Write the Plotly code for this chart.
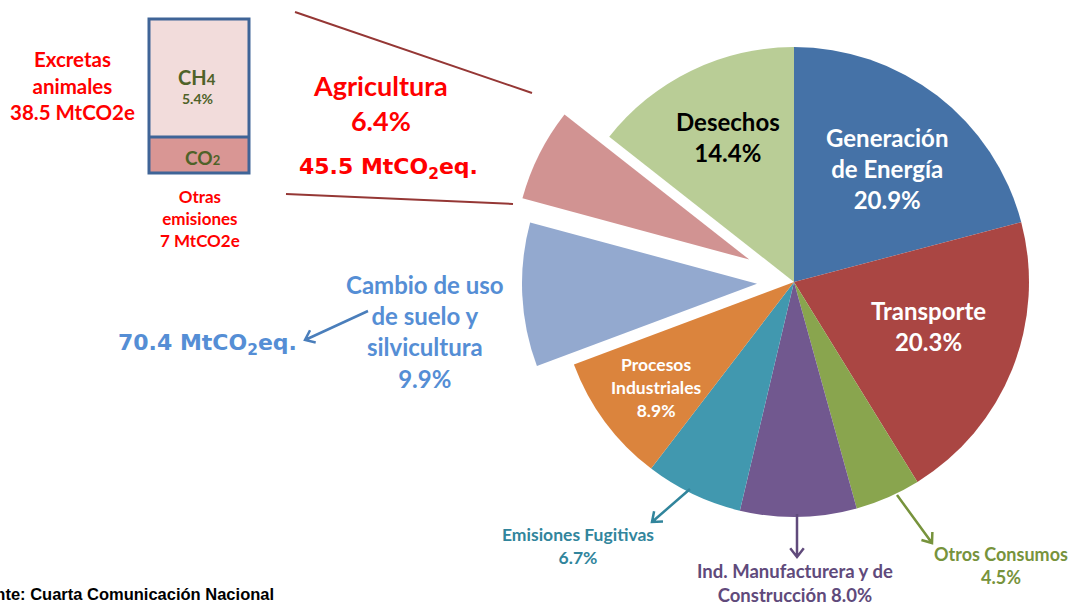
import math
import plotly.graph_objects as go

W, H = 1073, 603

# ---- data ----
sectors = ["Generación de Energía", "Transporte", "Otros Consumos",
           "Ind. Manufacturera y de Construcción", "Emisiones Fugitivas",
           "Procesos Industriales", "Cambio de uso de suelo y silvicultura",
           "Agricultura", "Desechos"]
shares = [20.9, 20.3, 4.5, 8.0, 6.7, 8.9, 9.9, 6.4, 14.4]
colors = ["#4572A7", "#AA4643", "#89A54E", "#71588F", "#4198AF",
          "#DB843D", "#93A9CF", "#D19392", "#B9CD96"]
pulled = {"Cambio de uso de suelo y silvicultura": (-37, 1.7),
          "Agricultura": (-44.7, -22.4)}
agri_mt = 45.5
lulucf_mt = 70.4
excretas_mt = 38.5
otras_mt = 7
ch4_share = 5.4

FONT = "Lato, 'Open Sans', sans-serif"


def px(x):
    return x / W


def py(y):
    return 1 - y / H


R = 235
CX, CY = 794, 282


def dom(cx, cy):
    return dict(x=[px(cx - R), px(cx + R)], y=[py(cy + R), py(cy - R)])


fig = go.Figure()

TRANSP = "rgba(0,0,0,0)"
# main pie (pulled slices hidden)
main_cols = [TRANSP if s in pulled else c for s, c in zip(sectors, colors)]
fig.add_trace(go.Pie(labels=sectors, values=shares, sort=False,
                     direction="clockwise", rotation=0,
                     marker=dict(colors=main_cols, line=dict(width=0)),
                     textinfo="none", hoverinfo="label+percent",
                     domain=dom(CX, CY), showlegend=False))
# exploded slices, each in its own shifted pie
for name, (dx, dy) in pulled.items():
    cols = [c if s == name else TRANSP for s, c in zip(sectors, colors)]
    fig.add_trace(go.Pie(labels=sectors, values=shares, sort=False,
                         direction="clockwise", rotation=0,
                         marker=dict(colors=cols, line=dict(width=0)),
                         textinfo="none", hoverinfo="label+percent",
                         domain=dom(CX + dx, CY + dy), showlegend=False))

ann = []
shapes = []


def text(x, y, t, size, color, family=FONT, xanchor="center"):
    ann.append(dict(x=px(x), y=py(y), xref="paper", yref="paper", text=t,
                    showarrow=False, xanchor=xanchor, yanchor="middle",
                    font=dict(size=size, color=color, family=family)))


def arrow(x0, y0, x1, y1, color, head=11, ang=38):
    # line with an open "V" arrow head at (x1, y1), in pixel coords
    dx, dy = x1 - x0, y1 - y0
    n = math.hypot(dx, dy)
    ux, uy = dx / n, dy / n
    pts = []
    for s in (1, -1):
        a = math.radians(ang) * s
        rx = ux * math.cos(a) - uy * math.sin(a)
        ry = ux * math.sin(a) + uy * math.cos(a)
        pts.append((x1 - head * rx, y1 - head * ry))
    path = (f"M {px(x0)} {py(y0)} L {px(x1)} {py(y1)} "
            f"M {px(pts[0][0])} {py(pts[0][1])} L {px(x1)} {py(y1)} "
            f"L {px(pts[1][0])} {py(pts[1][1])}")
    shapes.append(dict(type="path", xref="paper", yref="paper", path=path,
                       line=dict(color=color, width=2.5)))


def pct(v):
    return f"{v:.1f}%"


# inside labels
text(887, 169, f"<b>Generación<br>de Energía<br>{pct(shares[0])}</b>", 24, "white")
text(928, 326, f"<b>Transporte<br>{pct(shares[1])}</b>", 24, "white")
text(728, 137, f"<b>Desechos<br>{pct(shares[8])}</b>", 24, "black")
text(656, 387, f"<b>Procesos<br>Industriales<br>{pct(shares[5])}</b>", 17.5, "white")

# outside labels
text(425, 331, f"<b>Cambio de uso<br>de suelo y<br>silvicultura<br>{pct(shares[6])}</b>", 24, "#558ED5")
text(207, 344, f"<b>{lulucf_mt} MtCO<sub>2</sub>eq.</b>", 22, "#558ED5",
     family="'DejaVu Sans', Verdana, sans-serif")
arrow(368, 311, 305, 340, "#4A7EBB")

text(380, 103, f"<b>Agricultura<br>{pct(shares[7])}</b>", 27, "#FF0000")
text(388, 169, f"<b>{agri_mt} MtCO<sub>2</sub>eq.</b>", 22, "#FF0000",
     family="'DejaVu Sans', Verdana, sans-serif")

text(578, 546, f"<b>Emisiones Fugitivas<br>{pct(shares[4])}</b>", 17.5, "#31859C")
arrow(690, 489, 652, 522, "#31859C")

text(795, 583, f"<b>Ind. Manufacturera y de<br>Construcción {pct(shares[3])}</b>", 18.5, "#604A7B")
arrow(797, 514, 797, 557, "#604A7B")

text(1001, 565, f"<b>Otros Consumos<br>{pct(shares[2])}</b>", 18, "#77933C")
arrow(897, 495, 932, 543, "#77933C")

# left detail box
text(72, 85, f"<b>Excretas<br>animales<br>{excretas_mt} MtCO2e</b>", 20.5, "#FF0000")
text(200, 218, f"<b>Otras<br>emisiones<br>{otras_mt} MtCO2e</b>", 17, "#FF0000")
text(197, 77, "<b>CH<span style='font-size:15px'>4</span></b>", 20, "#4F6228")
text(197, 98, f"<b>{ch4_share}%</b>", 14, "#4F6228")
text(202, 157, "<b>CO<span style='font-size:13px'>2</span></b>", 19, "#4F6228")

# source (its start is cut off at the left edge, as in the original)
ann.append(dict(x=px(276), y=py(594), xref="paper", yref="paper",
                text="<b>Fuente: Cuarta Comunicación Nacional</b>",
                showarrow=False, xanchor="right", yanchor="middle",
                font=dict(size=16.5, color="black",
                          family="'Liberation Sans', Arial, sans-serif")))

shapes += [
    dict(type="rect", xref="paper", yref="paper",
         x0=px(148), x1=px(250), y0=py(137), y1=py(18),
         fillcolor="#F2DCDB", line=dict(width=0), layer="below"),
    dict(type="rect", xref="paper", yref="paper",
         x0=px(148), x1=px(250), y0=py(174), y1=py(137),
         fillcolor="#D99694", line=dict(width=0), layer="below"),
    dict(type="rect", xref="paper", yref="paper",
         x0=px(149), x1=px(249), y0=py(173), y1=py(19),
         fillcolor="rgba(0,0,0,0)", line=dict(color="#3F6497", width=3)),
    dict(type="line", xref="paper", yref="paper",
         x0=px(149), x1=px(249), y0=py(137), y1=py(137),
         line=dict(color="#3F6497", width=3)),
    dict(type="line", xref="paper", yref="paper",
         x0=px(295), x1=px(532), y0=py(12), y1=py(93),
         line=dict(color="#953735", width=2)),
    dict(type="line", xref="paper", yref="paper",
         x0=px(286), x1=px(513), y0=py(194), y1=py(204),
         line=dict(color="#953735", width=2)),
]

fig.update_layout(width=W, height=H, margin=dict(l=0, r=0, t=0, b=0),
                  paper_bgcolor="white", plot_bgcolor="white",
                  showlegend=False, annotations=ann, shapes=shapes,
                  font=dict(family=FONT))

fig.write_html("out.html", config={"displayModeBar": False},
               post_script="document.body.style.margin='0px';"
                           "document.body.style.overflow='hidden';")
